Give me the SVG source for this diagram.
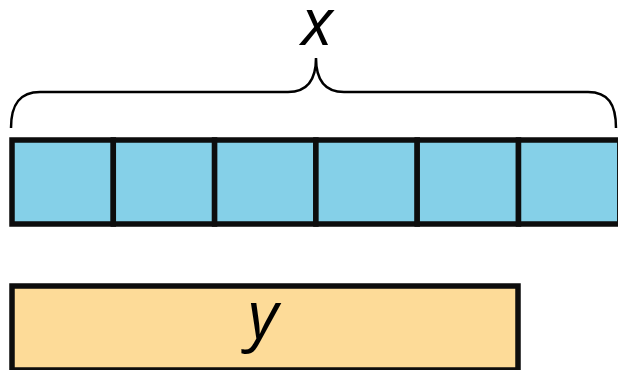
<svg xmlns="http://www.w3.org/2000/svg" width="618" height="370" viewBox="0 0 618 370">
<style>
.cell{fill:#85d0e8;stroke:#0d0d0d;stroke-width:5.5}
.bar{fill:#fddb98;stroke:#0d0d0d;stroke-width:5.5}
.lbl{font-family:"Open Sans","Noto Sans",sans-serif;font-style:italic;font-size:66px;fill:#000;text-anchor:middle}
.brace{fill:none;stroke:#000;stroke-width:2.5}
</style>
<g id="brace">
<path class="brace" d="M11,128 C11,104 20,92 40,92 L288,92 C306,92 316,82 316,58 C316,82 326,92 344,92 L588,92 C608,92 616,104 616,128"/>
<text class="lbl" x="317" y="45">x</text>
</g>
<g id="x-bar">
<rect class="cell" x="12" y="140" width="101.3" height="84"/>
<rect class="cell" x="113.3" y="140" width="101.3" height="84"/>
<rect class="cell" x="214.6" y="140" width="101.3" height="84"/>
<rect class="cell" x="315.9" y="140" width="101.3" height="84"/>
<rect class="cell" x="417.2" y="140" width="101.3" height="84"/>
<rect class="cell" x="518.5" y="140" width="101.3" height="84"/>
</g>
<g id="y-bar">
<rect class="bar" x="12" y="286" width="506" height="84"/>
<text class="lbl" x="263" y="338">y</text>
</g>
</svg>
